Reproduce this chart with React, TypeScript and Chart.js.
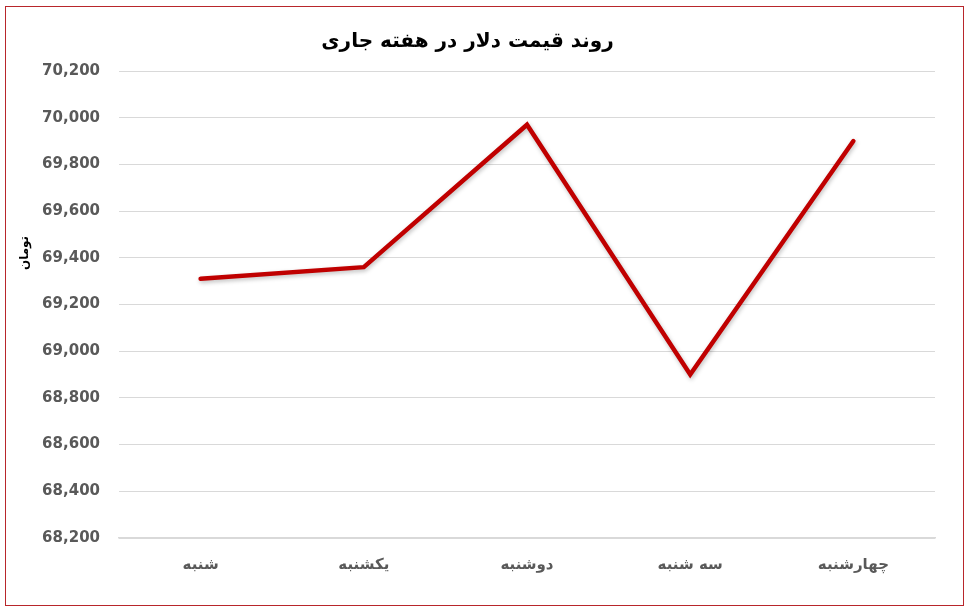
import React, { useEffect, useRef } from "react";
import { Chart, registerables } from "chart.js";

Chart.register(...registerables);

const categories = ["شنبه", "یکشنبه", "دوشنبه", "سه شنبه", "چهارشنبه"];
const dollarPrices = [69310, 69360, 69970, 68900, 69900];
const titleText = "روند قیمت دلار در هفته جاری";
const yAxisLabel = "تومان";
const yMin = 68200;
const yMax = 70200;
const yStep = 200;

const yLabelPlugin = {
  id: "yLabelPlugin",
  afterDraw(chart: any) {
    const ctx = chart.ctx;
    ctx.save();
    ctx.translate(25, 253);
    ctx.rotate(-Math.PI / 2);
    ctx.font = "bold 12px 'DejaVu Sans'";
    ctx.fillStyle = "#000000";
    ctx.textAlign = "center";
    ctx.textBaseline = "middle";
    ctx.fillText(yAxisLabel, 0, 0);
    ctx.restore();
  },
};

const shadowPlugin = {
  id: "shadowPlugin",
  beforeDatasetDraw(chart: any) {
    const ctx = chart.ctx;
    ctx.save();
    ctx.shadowColor = "rgba(0,0,0,0.25)";
    ctx.shadowBlur = 4;
    ctx.shadowOffsetX = 1;
    ctx.shadowOffsetY = 2;
  },
  afterDatasetDraw(chart: any) {
    chart.ctx.restore();
  },
};

export default function App() {
  const canvasRef = useRef<HTMLCanvasElement | null>(null);

  useEffect(() => {
    if (!canvasRef.current) return;
    const chart = new Chart(canvasRef.current, {
      type: "line",
      data: {
        labels: categories,
        datasets: [
          {
            data: dollarPrices,
            borderColor: "#c00000",
            borderWidth: 4.5,
            pointRadius: 0,
            tension: 0,
            borderCapStyle: "round",
            borderJoinStyle: "miter",
            fill: false,
          },
        ],
      },
      options: {
        animation: false,
        responsive: false,
        maintainAspectRatio: false,
        layout: { padding: { top: 6, right: 35, bottom: 23, left: 0 } },
        plugins: {
          legend: { display: false },
          tooltip: { enabled: false },
          title: {
            display: true,
            text: titleText,
            color: "#000000",
            font: { family: "'DejaVu Sans'", size: 20, weight: "bold" },
            padding: { top: 24, bottom: 17 },
          },
        },
        scales: {
          x: {
            offset: true,
            grid: { display: false, drawTicks: false },
            border: { display: true, color: "#d9d9d9", width: 1.5 },
            ticks: {
              color: "#595959",
              padding: 18,
              font: { family: "'DejaVu Sans'", size: 15, weight: "bold" },
              maxRotation: 0,
            },
          },
          y: {
            min: yMin,
            max: yMax,
            afterFit(scale: any) {
              scale.width = 119;
            },
            grid: { color: "#d9d9d9", lineWidth: 1, drawTicks: false },
            border: { display: false },
            ticks: {
              stepSize: yStep,
              color: "#595959",
              padding: 19,
              font: { family: "'DejaVu Sans'", size: 15, weight: "bold" },
              callback: (v: any) => Number(v).toLocaleString("en-US"),
            },
          },
        },
      },
      plugins: [yLabelPlugin, shadowPlugin],
    });
    return () => chart.destroy();
  }, []);

  return (
    <div style={{ position: "fixed", left: 0, top: 0, width: 970, height: 615, background: "#ffffff" }}>
      <canvas ref={canvasRef} width={970} height={615} style={{ position: "absolute", left: 0, top: 0 }} />
      <div
        style={{
          position: "absolute",
          left: 5,
          top: 6,
          width: 957,
          height: 598,
          border: "1px solid #b8262b",
          pointerEvents: "none",
        }}
      />
    </div>
  );
}
